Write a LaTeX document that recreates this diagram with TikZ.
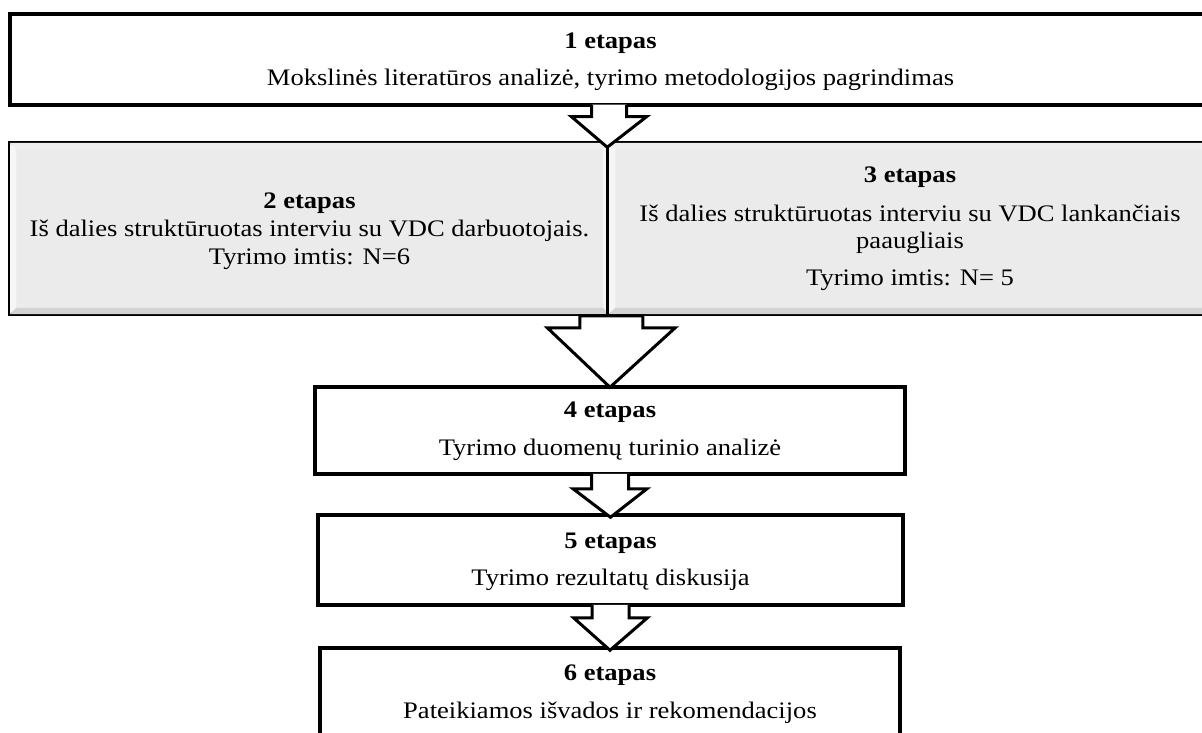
\documentclass[tikz,border=0pt]{standalone}
\usepackage{fontspec}
\setmainfont{Liberation Serif}[FakeStretch=1.12]
\usetikzlibrary{calc}
\definecolor{boxgray}{HTML}{EBEBEB}
\definecolor{bevlight}{HTML}{F6F6F6}
\definecolor{bevtop}{HTML}{EFEFEF}
\definecolor{bevdark}{HTML}{D3D3D3}
\newcommand\bevelbox[1]{%
  \fill[bevtop] ($(#1.north west)+(1.75,1.75)$) -- ($(#1.north east)+(-1.75,1.75)$) -- ($(#1.north east)+(-8,8)$) -- ($(#1.north west)+(8,8)$) -- cycle;
  \fill[bevlight] ($(#1.north west)+(1.75,1.75)$) -- ($(#1.south west)+(1.75,-1.75)$) -- ($(#1.south west)+(8,-8)$) -- ($(#1.north west)+(8,8)$) -- cycle;
  \fill[bevlight] ($(#1.north east)+(-1.75,1.75)$) -- ($(#1.south east)+(-1.75,-1.75)$) -- ($(#1.south east)+(-8,-8)$) -- ($(#1.north east)+(-8,8)$) -- cycle;
  \fill[bevdark] ($(#1.south west)+(1.75,-1.75)$) -- ($(#1.south east)+(-1.75,-1.75)$) -- ($(#1.south east)+(-8,-8)$) -- ($(#1.south west)+(8,-8)$) -- cycle;
}
% open block arrow: #1 start, #2 tip, #3 shaft half width, #4 head half width, #5 shaft length
\newcommand\openarrow[5]{%
  \path let \p1=(#1), \p2=(#2) in [fill=white]
    (\x1-#3,\y1+2pt) -- (\x1-#3,\y1-#5) -- (\x1-#4,\y1-#5) -- (\x2,\y2)
    -- (\x1+#4,\y1-#5) -- (\x1+#3,\y1-#5) -- (\x1+#3,\y1+2pt) -- cycle;
  \path let \p1=(#1), \p2=(#2) in [arrowline]
    (\x1-#3,\y1+1.75pt) -- (\x1-#3,\y1-#5) -- (\x1-#4,\y1-#5) -- (\x2,\y2)
    -- (\x1+#4,\y1-#5) -- (\x1+#3,\y1-#5) -- (\x1+#3,\y1+1.75pt);
}
\newcommand\closedarrow[5]{%
  \path let \p1=(#1), \p2=(#2) in [arrowline, fill=white]
    (\x1-#3,\y1) -- (\x1-#3,\y1-#5) -- (\x1-#4,\y1-#5) -- (\x2,\y2)
    -- (\x1+#4,\y1-#5) -- (\x1+#3,\y1-#5) -- (\x1+#3,\y1) -- cycle;
}
\begin{document}
\begin{tikzpicture}[x=1pt,y=-1pt,
  stage/.style={draw=black, line width=3.5pt, fill=white, rectangle, inner sep=0pt},
  greystage/.style={stage, fill=boxgray},
  ttl/.style={anchor=base, inner sep=0pt, font=\fontsize{23.7}{28}\selectfont\bfseries},
  txt/.style={anchor=base, inner sep=0pt, font=\fontsize{23.7}{28}\selectfont},
  arrowline/.style={draw=black, line width=3pt, line join=miter, miter limit=10}]
\useasboundingbox (0,0) rectangle (1202,733);
\clip (0,0) rectangle (1202,733);

% boxes
\node[stage, minimum width=1201pt, minimum height=91pt] (b1) at (610.5,59.5) {};
\node[greystage, minimum width=599pt, minimum height=171pt] (b2) at (309.5,228.5) {};
\node[greystage, minimum width=602pt, minimum height=171pt] (b3) at (910,228.5) {};
\bevelbox{b2}
\bevelbox{b3}
\draw[line width=3.5pt] (b3.north west) -- (b3.south west);
\node[stage, minimum width=590pt, minimum height=87pt] (b4) at (610,430.5) {};
\node[stage, minimum width=585pt, minimum height=90pt] (b5) at (610.5,560) {};
\node[stage, minimum width=580pt, minimum height=112pt] (b6) at (610,704) {};

% texts
\node[ttl] (t1a) at ($(b1.north)+(0,36)$) {1 etapas};
\node[txt] (t1b) at ($(b1.north)+(0,73)$) {Mokslinės literatūros analizė, tyrimo metodologijos pagrindimas};

\node[ttl] (t2a) at ($(b2.north)+(0,67)$) {2 etapas};
\node[txt] (t2b) at ($(b2.north)+(0,95)$) {Iš dalies struktūruotas interviu su VDC darbuotojais.};
\node[txt] (t2c) at ($(b2.north)+(0,123)$) {Tyrimo imtis: N=6};

\node[ttl] (t3a) at ($(b3.north)+(0,41)$) {3 etapas};
\node[txt] (t3b) at ($(b3.north)+(0,80)$) {Iš dalies struktūruotas interviu su VDC lankančiais};
\node[txt] (t3c) at ($(b3.north)+(0,107)$) {paaugliais};
\node[txt] (t3d) at ($(b3.north)+(0,144)$) {Tyrimo imtis: N= 5};

\node[ttl] (t4a) at ($(b4.north)+(0,32)$) {4 etapas};
\node[txt] (t4b) at ($(b4.north)+(0,70)$) {Tyrimo duomenų turinio analizė};

\node[ttl] (t5a) at ($(b5.north)+(0,35)$) {5 etapas};
\node[txt] (t5b) at ($(b5.north)+(0,72)$) {Tyrimo rezultatų diskusija};

\node[ttl] (t6a) at ($(b6.north)+(0,34)$) {6 etapas};
\node[txt] (t6b) at ($(b6.north)+(0,72)$) {Pateikiamos išvados ir rekomendacijos};

% block arrows
\coordinate (a1s) at ($(b1.south)+(-1.5,0)$);
\coordinate (a1t) at ($(b3.north west)+(0,6)$);
\openarrow{a1s}{a1t}{17.5pt}{37.5pt}{10pt}
\coordinate (a2s) at ($(b2.south east)+(0.5,0)$);
\coordinate (a2t) at ($(b4.north)+(0,2)$);
\closedarrow{a2s}{a2t}{31.5pt}{64pt}{12pt}
\coordinate (a3t) at ($(b5.north)+(0,4)$);
\openarrow{b4.south}{a3t}{18.5pt}{37pt}{13pt}
\coordinate (a4t) at ($(b6.north)+(0,4)$);
\openarrow{b5.south}{a4t}{18.5pt}{37pt}{11pt}
\end{tikzpicture}
\end{document}
